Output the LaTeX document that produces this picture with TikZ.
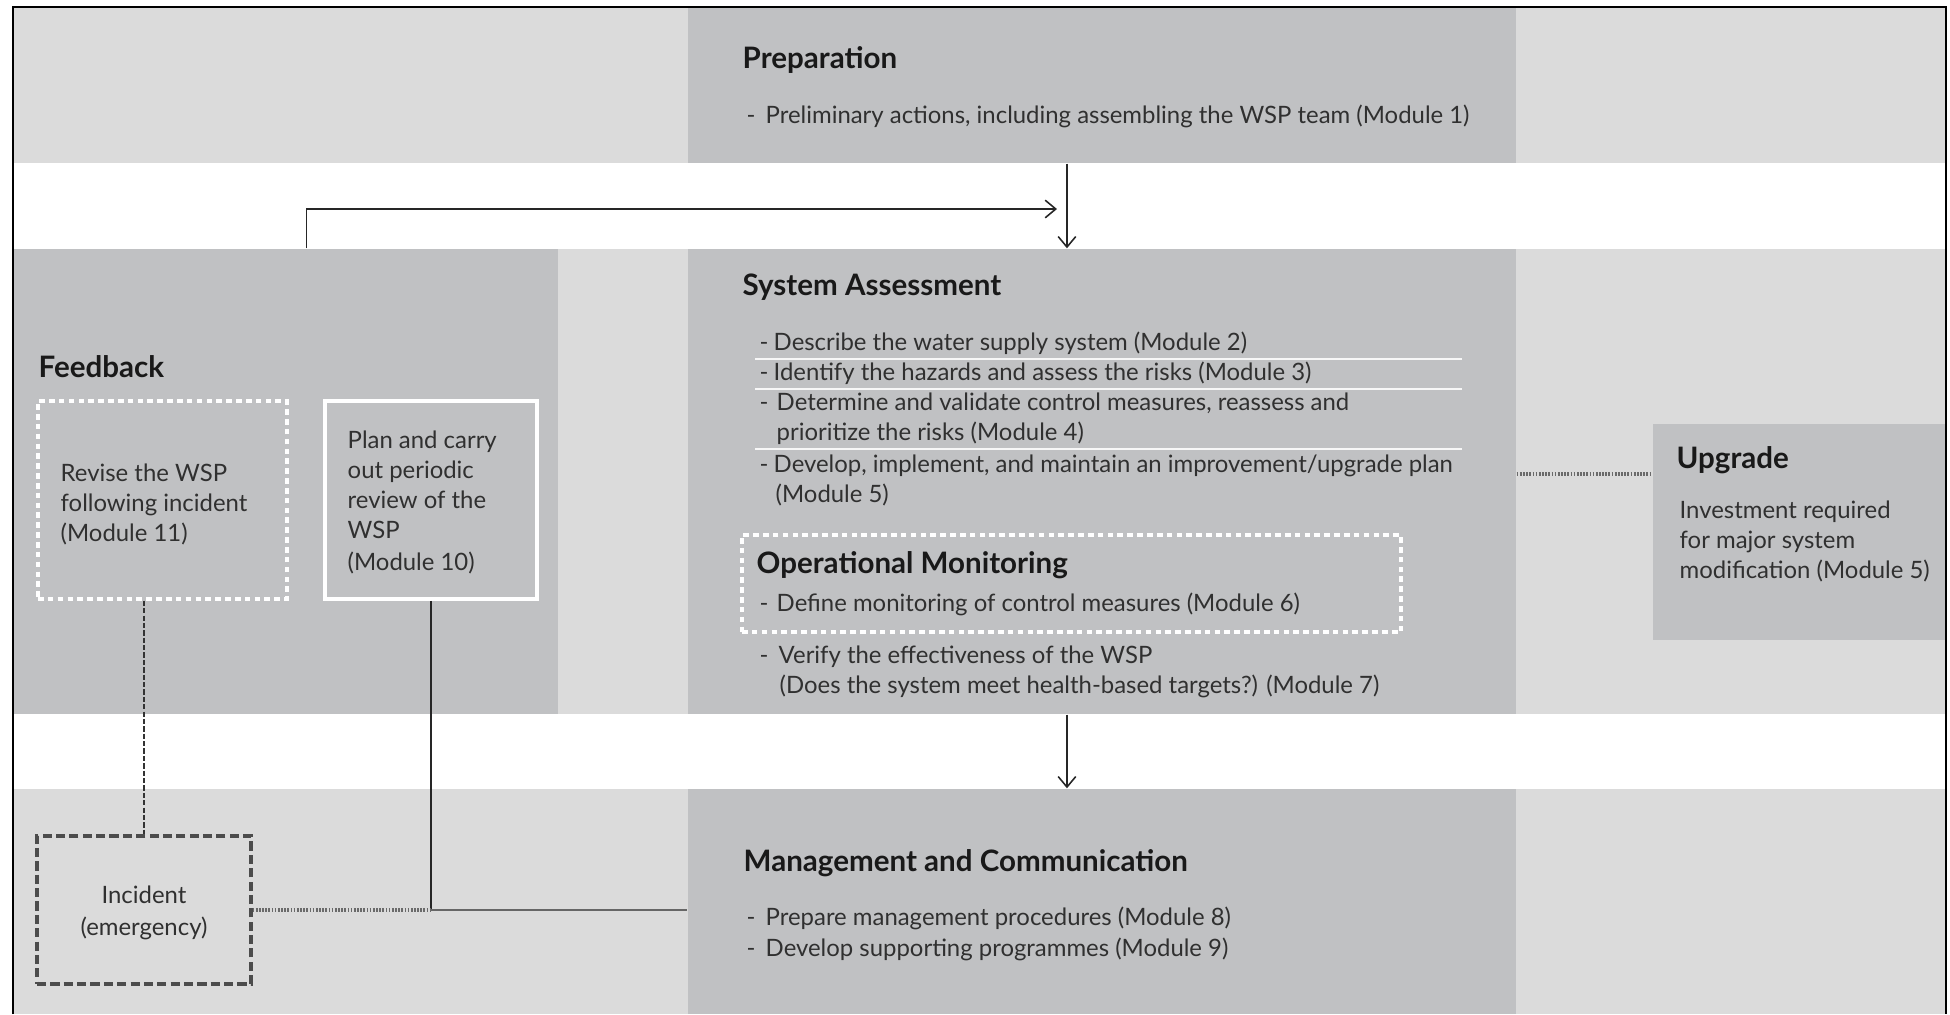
\documentclass[tikz,border=0pt]{standalone}
\usepackage{fontspec}
\setmainfont{Lato}
\usetikzlibrary{arrows.meta,fit}
\definecolor{lightg}{HTML}{DBDBDB}
\definecolor{darkg}{HTML}{C0C1C3}
\definecolor{txt}{HTML}{303030}
\definecolor{dotg}{HTML}{6A6A6A}
\newcommand\bodyfont{\fontsize{6.8}{8.5}\selectfont}
\newcommand\titlefont{\fontsize{8.4}{10}\selectfont\bfseries}
\begin{document}
\begin{tikzpicture}[x=0.01cm,y=-0.01cm,
  darkbox/.style={fill=darkg,draw=none,inner sep=0pt},
  bodytext/.style={anchor=base west,inner sep=0pt,text=txt,font=\bodyfont},
  ctrtext/.style={anchor=base,inner sep=0pt,text=txt,font=\bodyfont},
  titletext/.style={anchor=base west,inner sep=0pt,text=black!90,font=\titlefont},
  arr/.style={draw=black!85,line width=0.45pt,-{Straight Barb[length=3pt,width=5pt]}},
  sepline/.style={draw=white!97!black,line width=0.6pt},
  whitedash/.style={draw=white,line width=1pt,dash pattern=on 1.6pt off 1.2pt,inner sep=0pt},
  whitesolid/.style={draw=white,line width=1pt,inner sep=0pt},
  incbox/.style={draw=black!70,line width=0.9pt,dash pattern=on 2.6pt off 1.2pt,inner sep=0pt},
  dotline/.style={draw=dotg,line width=0.9pt,dash pattern=on 0.5pt off 0.4pt},
  fineline/.style={draw=black!80,line width=0.4pt,dash pattern=on 1.5pt off 0.6pt},
  solidline/.style={draw=black!85,line width=0.45pt},
  thickline/.style={draw=black!60,line width=0.8pt}
]
\useasboundingbox (0,0) rectangle (1950,1014);
% background bands
\fill[lightg] (13,7) rectangle (1946,163);
\fill[lightg] (13,249) rectangle (1946,714);
\fill[lightg] (13,789) rectangle (1946,1014);
% main boxes
\node[darkbox,fit={(688,7) (1516,163)}] (prep) {};
\node[darkbox,fit={(688,249) (1516,714)}] (sa) {};
\node[darkbox,fit={(688,789) (1516,1014)}] (mgmt) {};
\node[darkbox,fit={(13,249) (558,714)}] (fb) {};
\node[darkbox,fit={(1653,424) (1946,640)}] (upg) {};
% frame
\draw[black,line width=0.6pt] (13,1014) -- (13,7) -- (1946,7) -- (1946,1014);
% inner boxes
\node[whitedash,fit={(38,401) (287,599)}] (rev) {};
\node[whitesolid,fit={(325,401) (537,599)}] (plan) {};
\node[whitedash,fit={(742,535) (1401,632)}] (opm) {};
\node[incbox,fit={(37,836) (251,984)}] (inc) {};
% separators in System Assessment
\draw[sepline] (755,359) -- (1462,359);
\draw[sepline] (755,389) -- (1462,389);
\draw[sepline] (755,449) -- (1462,449);
% connectors
\coordinate (fbtip) at (1057,209);
\coordinate (uy) at (0,474);
\draw[arr] ([xshift=-0.35cm]prep.south) -- ([xshift=-0.35cm]sa.north);
\draw[arr] ([xshift=2.94cm]fb.north west) |- (fbtip);
\draw[arr] ([xshift=-0.35cm]sa.south) -- ([xshift=-0.35cm]mgmt.north);
\draw[dotline] (sa.east |- uy) -- (upg.west |- uy);
\draw[fineline] (rev.south -| inc.north) -- (inc.north);
\coordinate (jn) at (plan.south |- inc.east);
\draw[solidline] (plan.south) -- (jn);
\draw[thickline] (jn) -- (mgmt.west |- jn);
\draw[dotline] (inc.east) -- (jn);
% Preparation
\node[titletext] (tprep) at (742,68) {Preparation};
\node[bodytext] (dprep) at (746,123) {-};
\node[bodytext] (lprep) at (765,123) {Preliminary actions, including assembling the WSP team (Module 1)};
% System Assessment
\node[titletext] (tsa) at (742,295) {System Assessment};
\node[bodytext] (d1) at (759,350) {-};
\node[bodytext] (l1) at (773,350) {Describe the water supply system (Module 2)};
\node[bodytext] (d2) at (759,380) {-};
\node[bodytext] (l2) at (773,380) {Identify the hazards and assess the risks (Module 3)};
\node[bodytext] (d3) at (759,410) {-};
\node[bodytext] (l3a) at (776,410) {Determine and validate control measures, reassess and};
\node[bodytext] (l3b) at (776,440) {prioritize the risks (Module 4)};
\node[bodytext] (d4) at (759,472) {-};
\node[bodytext] (l4a) at (773,472) {Develop, implement, and maintain an improvement/upgrade plan};
\node[bodytext] (l4b) at (775,502) {(Module 5)};
\node[titletext] (topm) at (756,573) {Operational Monitoring};
\node[bodytext] (d5) at (759,611) {-};
\node[bodytext] (l5) at (776,611) {Define monitoring of control measures (Module 6)};
\node[bodytext] (d6) at (759,663) {-};
\node[bodytext] (l6a) at (778,663) {Verify the effectiveness of the WSP};
\node[bodytext] (l6b) at (779,693) {(Does the system meet health-based targets?) (Module 7)};
% Upgrade
\node[titletext] (tupg) at (1676,468) {Upgrade};
\node[bodytext] (u1) at (1679,518) {Investment required};
\node[bodytext] (u2) at (1679,548) {for major system};
\node[bodytext] (u3) at (1679,578) {modification (Module 5)};
% Feedback
\node[titletext] (tfb) at (38,377) {Feedback};
\node[bodytext] (r1) at (60,481) {Revise the WSP};
\node[bodytext] (r2) at (60,511) {following incident};
\node[bodytext] (r3) at (60,541) {(Module 11)};
\node[bodytext] (p1) at (347,448) {Plan and carry};
\node[bodytext] (p2) at (347,478) {out periodic};
\node[bodytext] (p3) at (347,508) {review of the};
\node[bodytext] (p4) at (347,538) {WSP};
\node[bodytext] (p5) at (347,570) {(Module 10)};
% Incident
\node[ctrtext] (i1) at (144,903) {Incident};
\node[ctrtext] (i2) at (144,935) {(emergency)};
% Management
\node[titletext] (tmg) at (743,871) {Management and Communication};
\node[bodytext] (dm1) at (746,925) {-};
\node[bodytext] (m1) at (765,925) {Prepare management procedures (Module 8)};
\node[bodytext] (dm2) at (746,956) {-};
\node[bodytext] (m2) at (765,956) {Develop supporting programmes (Module 9)};
\end{tikzpicture}
\end{document}
